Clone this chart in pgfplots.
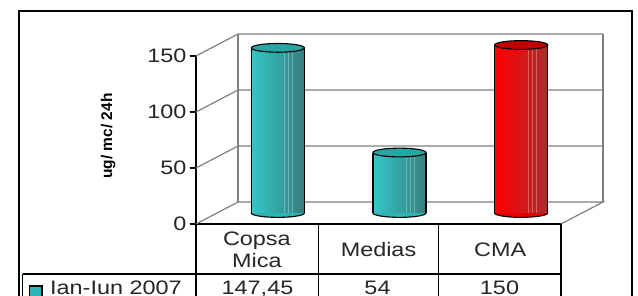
\documentclass[border=0pt]{standalone}
\usepackage{pgfplots}
\pgfplotsset{compat=1.18}
\usepackage{fontspec}
\setmainfont{Liberation Sans}
\usepackage{graphicx}
\newcommand{\sx}[1]{\scalebox{1.2}[1]{#1}}
\definecolor{tealL}{RGB}{52,200,200}
\definecolor{tealM}{RGB}{42,182,182}
\definecolor{tealR}{RGB}{55,125,125}
\definecolor{tealT}{RGB}{38,165,165}
\definecolor{redL}{RGB}{255,0,0}
\definecolor{redM}{RGB}{232,0,0}
\definecolor{redR}{RGB}{170,45,45}
\definecolor{redT}{RGB}{192,0,0}
\definecolor{wall}{RGB}{128,128,128}
\pgfplotsset{cylax/.style={
  at={(217bp,83bp)}, anchor=south west,
  scale only axis, width=365bp, height=168bp,
  xmin=-0.5, xmax=2.5, ymin=0, ymax=150,
  hide axis, clip=false}}
% #1 base coordinate, #2 fill
\newcommand{\cylbase}[2]{%
  \addplot[only marks, mark=*, mark size=26.5bp,
    mark options={yscale=0.165, draw=black, line width=1.1bp, fill=#2}] coordinates {#1};}
% #1 top coordinate, #2 left, #3 middle, #4 right, #5 top colour
\newcommand{\cyl}[5]{%
  \addplot[ybar, bar width=53bp, bar shift=0pt, draw=none,
    left color=#2, middle color=#3, right color=#4] coordinates {#1};
  \addplot[ycomb, no marks, white, opacity=0.3, line width=1bp, xshift=7bp] coordinates {#1};
  \addplot[ycomb, no marks, white, opacity=0.3, line width=1bp, xshift=11bp] coordinates {#1};
  \addplot[ycomb, no marks, white, opacity=0.3, line width=1bp, xshift=15bp] coordinates {#1};
  \addplot[ycomb, no marks, black, line width=1.1bp, xshift=-26.5bp] coordinates {#1};
  \addplot[ycomb, no marks, black, line width=1.1bp, xshift=26.5bp] coordinates {#1};
  \addplot[only marks, mark=*, mark size=26.5bp,
    mark options={yscale=0.165, draw=black, line width=1.1bp, fill=#5}] coordinates {#1};
}
\begin{document}
\begin{tikzpicture}
\useasboundingbox (0bp,0bp) rectangle (638bp,296bp);
\clip (0bp,0bp) rectangle (638bp,296bp);
\fill[white] (0bp,0bp) rectangle (638bp,296bp);
% front axis with walls
\begin{axis}[
  at={(196bp,72bp)}, anchor=south west,
  scale only axis, width=365bp, height=168bp,
  xmin=-0.5, xmax=2.5, ymin=0, ymax=150,
  axis x line*=bottom, axis y line*=left,
  axis line style={black, line width=1.2bp},
  xtick={0,1,2},
  xticklabels={{\sx{Copsa}\\\sx{Mica}},\sx{Medias},\sx{CMA}},
  xticklabel style={anchor=center, align=center, yshift=-20bp},
  x tick style={draw=none},
  ytick={0,50,100,150},
  yticklabels={\sx{0},\sx{50},\sx{100},\sx{150}},
  y tick style={black, line width=1.2bp},
  tick align=outside, major tick length=6bp,
  ticklabel style={font=\fontsize{19.5bp}{21.5bp}\selectfont, text=black!85},
  ylabel={ug/ mc/ 24h},
  every axis y label/.style={at={(axis description cs:-0.241,0.524)}, rotate=90, anchor=center, font=\bfseries\fontsize{15.5bp}{18bp}\selectfont},
  clip=false,
]
\draw[wall, line width=1.2bp] (axis cs:-0.5,0) -- ++(42bp,22bp) -- ++(365bp,0bp) -- ++(-42bp,-22bp);
\draw[wall, line width=1.2bp] (axis cs:-0.5,50) -- ++(42bp,22bp) -- ++(365bp,0bp);
\draw[wall, line width=1.2bp] (axis cs:-0.5,100) -- ++(42bp,22bp) -- ++(365bp,0bp);
\draw[wall, line width=1.2bp] (axis cs:-0.5,150) -- ++(42bp,22bp) -- ++(365bp,0bp);
\draw[wall, line width=1.2bp] ([shift={(42bp,22bp)}]axis cs:-0.5,0) -- ++(0bp,168bp);
\draw[wall, line width=1.2bp] ([shift={(42bp,22bp)}]axis cs:2.5,0) -- ++(0bp,168bp);
\end{axis}
% cylinder bases
\begin{axis}[cylax]
\cylbase{(0,0)}{tealM}
\cylbase{(1,0)}{tealM}
\cylbase{(2,0)}{redM}
\end{axis}
% cylinder bodies
\begin{axis}[cylax]
\cyl{(0,147.45)}{tealL}{tealM}{tealR}{tealT}
\cyl{(1,54)}{tealL}{tealM}{tealR}{tealT}
\cyl{(2,150)}{redL}{redM}{redR}{redT}
\end{axis}
% frame and data table
\draw[black, line width=1.5bp] (19bp,285bp) rectangle (632bp,-5bp);
\draw[black, line width=1.2bp] (22.7bp,22bp) -- (561bp,22bp);
\draw[black, line width=1.2bp] (22.7bp,22bp) -- (22.7bp,-5bp);
\draw[black, line width=1.2bp] (196bp,72bp) -- (196bp,-5bp);
\draw[black, line width=1.2bp] (318.5bp,72bp) -- (318.5bp,-5bp);
\draw[black, line width=1.2bp] (438.5bp,72bp) -- (438.5bp,-5bp);
\draw[black, line width=1.2bp] (561bp,72bp) -- (561bp,-5bp);
\draw[black, line width=1.8bp, fill=tealM] (29.5bp,10bp) rectangle (42bp,-3bp);
\begin{scope}[every node/.style={font=\fontsize{19.5bp}{21.5bp}\selectfont, text=black!85, inner sep=0pt}]
\node[anchor=base west] at (50bp,2bp) {\sx{Ian-Iun 2007}};
\node[anchor=base] at (257.5bp,2bp) {\sx{147,45}};
\node[anchor=base] at (377.5bp,2bp) {\sx{54}};
\node[anchor=base] at (499.5bp,2bp) {\sx{150}};
\end{scope}
\end{tikzpicture}
\end{document}
